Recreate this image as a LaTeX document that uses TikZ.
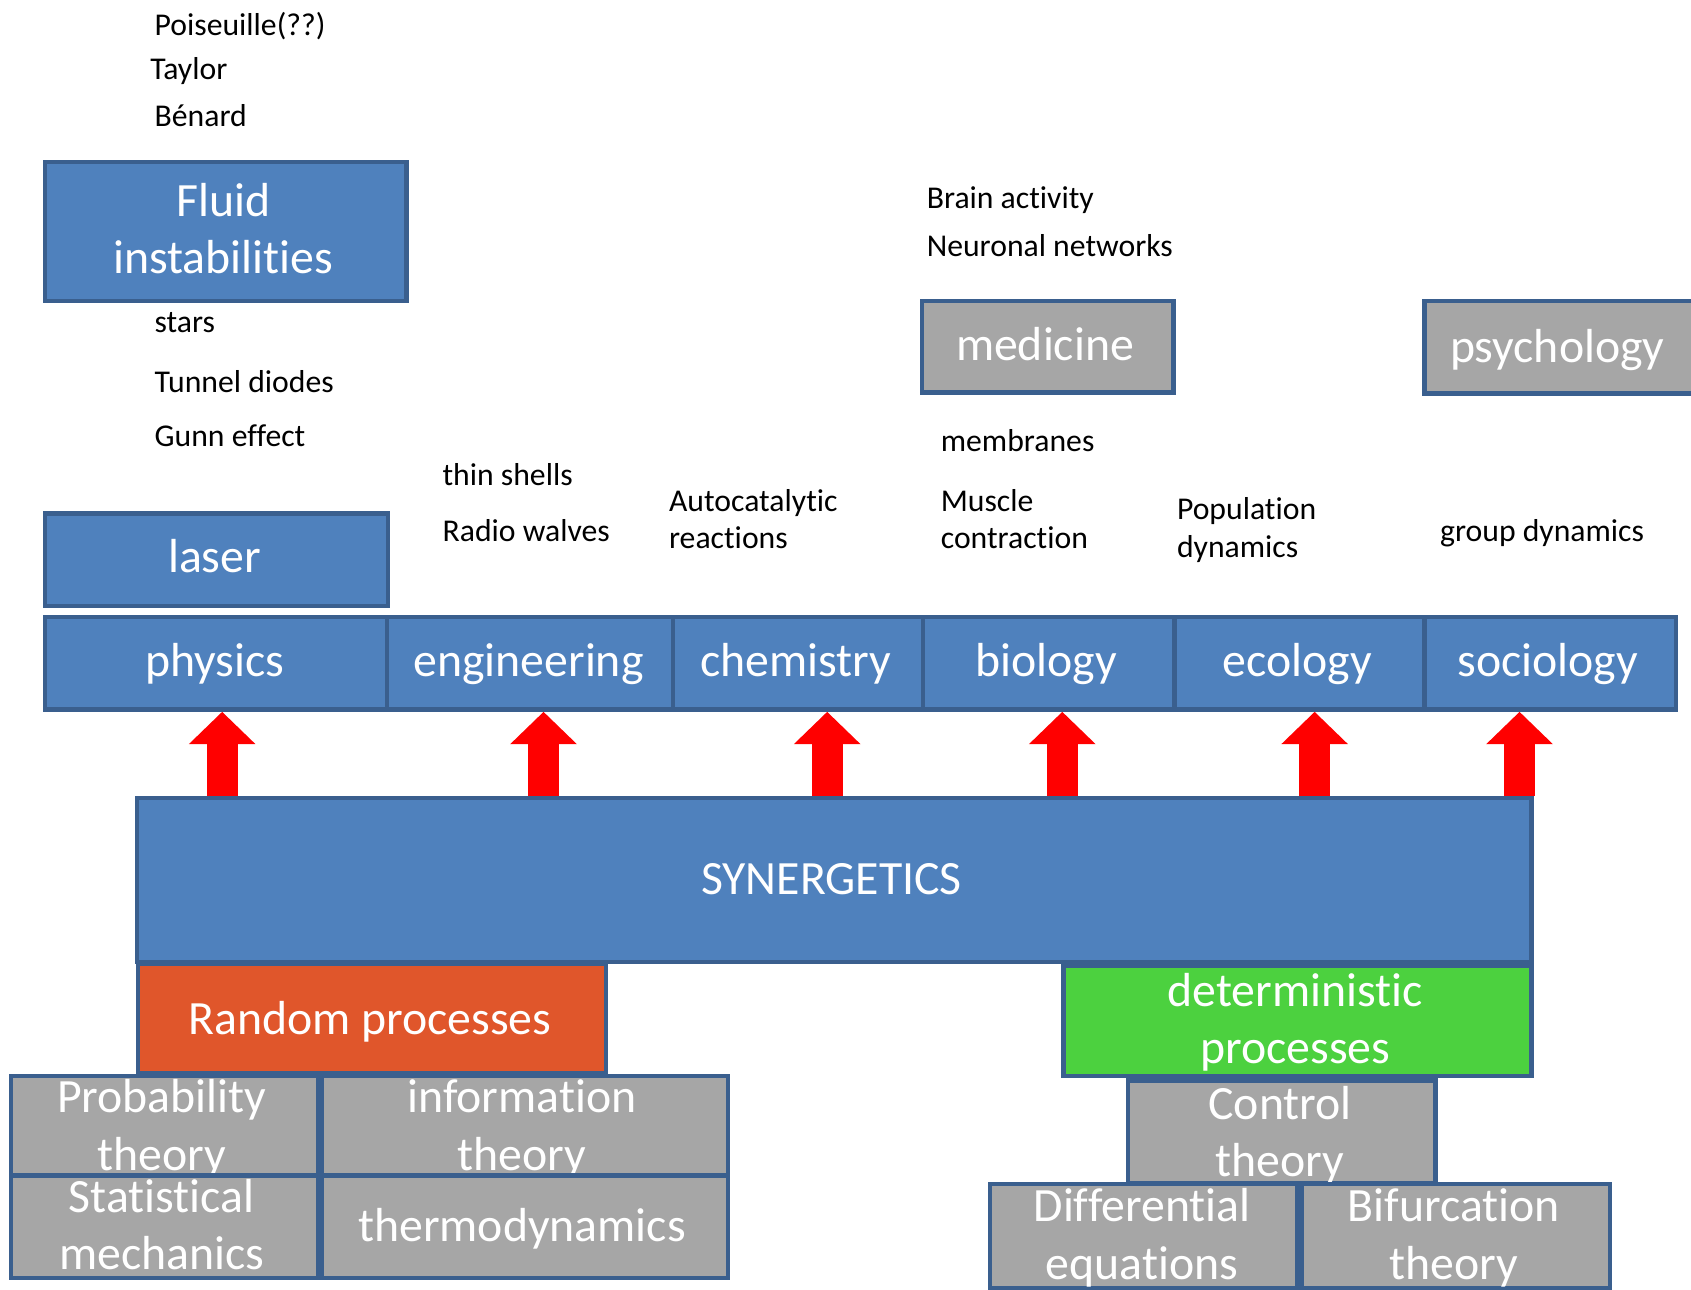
\documentclass[tikz,border=0pt]{standalone}
\usepackage{fontspec}
\setmainfont{Carlito}[Ligatures=NoCommon]
\usetikzlibrary{arrows.meta}
\definecolor{boxblue}{HTML}{4F81BD}
\definecolor{boxedge}{HTML}{3A5F8E}
\definecolor{boxgray}{HTML}{A6A6A6}
\definecolor{randfill}{HTML}{E0562B}
\definecolor{detfill}{HTML}{4CD13F}
\begin{document}
\begin{tikzpicture}[x=0.5pt,y=-0.5pt,
  panel/.style={draw=boxedge, line width=2pt, inner sep=0pt, anchor=north west},
  size/.style args={#1x#2}{minimum width=#1*0.5pt, minimum height=#2*0.5pt},
  bluepanel/.style={panel, fill=boxblue},
  graypanel/.style={panel, fill=boxgray},
  % multi-line labels sit on the baseline of their last line
  big/.style={font=\fontsize{22.15pt}{26.5pt}\selectfont, text=white, inner sep=0pt, anchor=base, align=center},
  small/.style={font=\fontsize{14.7pt}{17.5pt}\selectfont, inner sep=0pt, anchor=base west, align=left},
  uparrow/.style={draw=red, line width=14.5pt, -{Triangle[width=30pt,length=15pt]}, red}
]
\useasboundingbox (0,0) rectangle (1568,1196);

% --- fluid instabilities and their examples
\node[small] (poiseuille) at (143,33) {Poiseuille(??)};
\node[small] (taylor) at (139,74) {Taylor};
\node[small] (benard) at (143,117) {Bénard};
\node[bluepanel, size=335x129] (fluid) at (40,148) {};
\node[big] (fluid-t) at (207,254) {Fluid\\instabilities};
\node[small] (stars) at (143,308) {stars};
\node[small] (tunnel) at (143,364) {Tunnel diodes};
\node[small] (gunn) at (143,414) {Gunn effect};

% --- laser
\node[bluepanel, size=318x86] (laser) at (40,474) {};
\node[big] (laser-t) at (199,531) {laser};

% --- small labels above the disciplines
\node[small] (shells) at (410,450) {thin shells};
\node[small] (radio) at (410,502) {Radio walves};
\node[small] (autocat) at (620,509) {Autocatalytic\\reactions};
\node[small] (brain) at (859,193) {Brain activity};
\node[small] (neuronal) at (859,238) {Neuronal networks};
\node[small] (membranes) at (872,419) {membranes};
\node[small] (muscle) at (872,509) {Muscle\\contraction};
\node[small] (population) at (1091,517) {Population\\dynamics};
\node[small] (group) at (1335,502) {group dynamics};

% --- medicine and psychology
\node[graypanel, size=233x85] (medicine) at (853,277) {};
\node[big] (medicine-t) at (969,334) {medicine};
\node[graypanel, size=252x86] (psychology) at (1319,277) {};
\node[big] (psychology-t) at (1444,336) {psychology};

% --- row of disciplines
\node[bluepanel, size=317x86] (physics) at (40,570) {};
\node[big] (physics-t) at (199,627) {physics};
\node[bluepanel, size=265x86] (engineering) at (357,570) {};
\node[big] (engineering-t) at (490,627) {engineering};
\node[bluepanel, size=232x86] (chemistry) at (622,570) {};
\node[big] (chemistry-t) at (738,627) {chemistry};
\node[bluepanel, size=233x86] (biology) at (854,570) {};
\node[big] (biology-t) at (970,627) {biology};
\node[bluepanel, size=232x86] (ecology) at (1087,570) {};
\node[big] (ecology-t) at (1203,627) {ecology};
\node[bluepanel, size=233x86] (sociology) at (1319,570) {};
\node[big] (sociology-t) at (1435,627) {sociology};

% --- synergetics and its two branches
\node[bluepanel, size=1293x152] (syn) at (125,738) {};
\node[big] (syn-t) at (771,829) {SYNERGETICS};
\node[panel, fill=randfill, size=434x101] (random) at (126,892) {};
\node[big] (random-t) at (343,959) {Random processes};
\node[panel, fill=detfill, size=434x102] (det) at (984,894) {};
\node[big] (det-t) at (1201,986) {deterministic\\processes};

% --- foundations of the random branch
\node[graypanel, size=285x92] (prob) at (8,996) {};
\node[big] (prob-t) at (150,1085) {Probability\\theory};
\node[graypanel, size=377x92] (info) at (296,996) {};
\node[big] (info-t) at (484,1085) {information\\theory};
\node[graypanel, size=285x95] (stat) at (8,1088) {};
\node[big] (stat-t) at (150,1177) {Statistical\\mechanics};
\node[graypanel, size=377x95] (thermo) at (296,1088) {};
\node[big] (thermo-t) at (484,1151) {thermodynamics};

% --- foundations of the deterministic branch
\node[graypanel, size=285x95] (control) at (1044,1000) {};
\node[big] (control-t) at (1187,1091) {Control\\theory};
\node[graypanel, size=285x96] (diff) at (916,1096) {};
\node[big] (diff-t) at (1059,1186) {Differential\\equations};
\node[graypanel, size=286x96] (bif) at (1205,1096) {};
\node[big] (bif-t) at (1348,1186) {Bifurcation\\theory};

% --- arrows from synergetics up to each discipline
\coordinate (x1) at (206,0);
\coordinate (x2) at (504,0);
\coordinate (x3) at (767,0);
\coordinate (x4) at (985,0);
\coordinate (x5) at (1219,0);
\coordinate (x6) at (1409,0);
\draw[uparrow] (syn.north -| x1) -- (physics.south -| x1);
\draw[uparrow] (syn.north -| x2) -- (engineering.south -| x2);
\draw[uparrow] (syn.north -| x3) -- (chemistry.south -| x3);
\draw[uparrow] (syn.north -| x4) -- (biology.south -| x4);
\draw[uparrow] (syn.north -| x5) -- (ecology.south -| x5);
\draw[uparrow] (syn.north -| x6) -- (sociology.south -| x6);
\end{tikzpicture}
\end{document}
